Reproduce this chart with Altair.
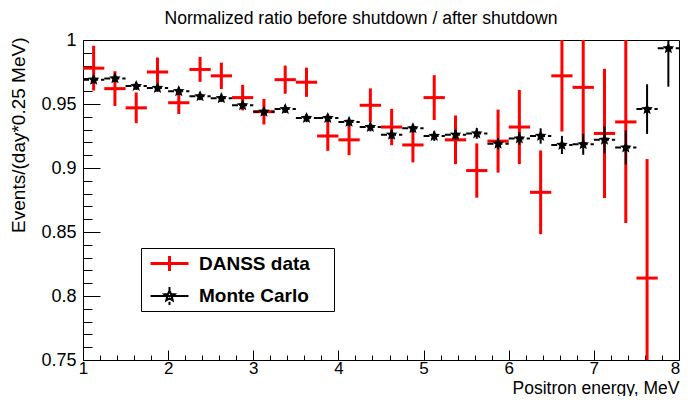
import math
import altair as alt
import pandas as pd

# ---- data ----
energy = [1.125, 1.375, 1.625, 1.875, 2.125, 2.375, 2.625, 2.875, 3.125, 3.375,
          3.625, 3.875, 4.125, 4.375, 4.625, 4.875, 5.125, 5.375, 5.625, 5.875,
          6.125, 6.375, 6.625, 6.875, 7.125, 7.375, 7.625, 7.875]
half_bin = 0.125

danss_ratio = [0.978, 0.962, 0.947, 0.975, 0.951, 0.977, 0.972, 0.955, 0.944, 0.969,
               0.967, 0.925, 0.922, 0.949, 0.932, 0.918, 0.955, 0.922, 0.898, 0.921,
               0.932, 0.881, 0.972, 0.963, 0.927, 0.936, 0.814]
danss_err = [0.0175, 0.0136, 0.012, 0.0113, 0.0088, 0.0097, 0.0103, 0.010, 0.010, 0.011,
             0.0114, 0.0116, 0.012, 0.0132, 0.0142, 0.0136, 0.0175, 0.019, 0.0212, 0.0246,
             0.029, 0.0327, 0.0435, 0.047, 0.0505, 0.079, 0.093]

mc_ratio = [0.969, 0.970, 0.964, 0.9625, 0.960, 0.956, 0.9545, 0.949, 0.944, 0.946,
            0.939, 0.939, 0.936, 0.932, 0.926, 0.931, 0.925, 0.926, 0.927, 0.919,
            0.923, 0.925, 0.918, 0.9185, 0.922, 0.916, 0.946, 0.9935]
mc_err = [0.003, 0.003, 0.003, 0.003, 0.003, 0.003, 0.003, 0.003, 0.003, 0.003,
          0.0032, 0.0032, 0.0033, 0.0034, 0.0035, 0.0035, 0.0038, 0.004, 0.0042, 0.0045,
          0.005, 0.006, 0.0071, 0.0082, 0.0106, 0.0133, 0.0194, 0.030]

series_names = ["DANSS data", "Monte Carlo"]
series_colors = ["#ff0000", "#000000"]

x_major = [1, 2, 3, 4, 5, 6, 7, 8]
y_major = [0.75, 0.8, 0.85, 0.9, 0.95, 1.0]
x_minor = [round(1 + 0.2 * i, 1) for i in range(36) if i % 5]
y_minor = [round(0.75 + 0.01 * i, 2) for i in range(26) if i % 5]

# ---- tables ----
danss = pd.DataFrame({"E": energy[:len(danss_ratio)], "ratio": danss_ratio, "err": danss_err})
danss["series"] = series_names[0]
mc = pd.DataFrame({"E": energy, "ratio": mc_ratio, "err": mc_err})
mc["series"] = series_names[1]
for df in (danss, mc):
    df["E0"] = df["E"] - half_bin
    df["E1"] = df["E"] + half_bin
    df["lo"] = df["ratio"] - df["err"]
    df["hi"] = df["ratio"] + df["err"]
both = pd.concat([danss, mc], ignore_index=True)

FONT = "Liberation Sans"
W, H = 596, 320
xs = alt.Scale(domain=[1, 8], nice=False, zero=False)
ys = alt.Scale(domain=[0.75, 1.0], nice=False, zero=False)


def star_path(R, r):
    pts = []
    for i in range(10):
        ang = -math.pi / 2 + i * math.pi / 5
        rad = R if i % 2 == 0 else r
        pts.append(f"{rad * math.cos(ang):.3f},{rad * math.sin(ang):.3f}")
    return "M" + "L".join(pts) + "Z"


STAR = star_path(1.0, 0.45)
cross_path = "M-1.46,0H1.46M0,-0.58V0.58"
mc_path = "M-1.46,0H1.46M0,-0.7V-0.45M0,0.45V0.7" + star_path(0.42, 0.19)

x_major_axis = alt.Axis(orient="bottom", values=x_major, format="d", offset=-10, tickSize=10,
                        labelPadding=0, labelFont=FONT, labelFontSize=17, labelColor="black",
                        labelOffset={"condition": {"test": "datum.value === 8", "value": -4},
                                     "value": 0},
                        tickColor="black", domain=False, grid=False, labelFlush=False,
                        labelOverlap=False, title="Positron energy, MeV", titleFont=FONT,
                        titleFontSize=17.5, titleFontWeight="normal", titleColor="black",
                        titleAlign="right", titleX=W, titleY=43, titleBaseline="alphabetic")
x_minor_axis = alt.Axis(orient="bottom", values=x_minor, offset=-5, tickSize=5, labels=False,
                        domain=False, grid=False, title=None, tickColor="black")
y_major_axis = alt.Axis(orient="left", values=y_major, format="~g", offset=-17, tickSize=17,
                        labelPadding=7, labelFont=FONT, labelFontSize=18, labelColor="black",
                        tickColor="black", domain=False, grid=False, labelFlush=False,
                        labelOverlap=False, title="Events/(day*0.25 MeV)", titleFont=FONT,
                        titleFontSize=19, titleFontWeight="normal", titleColor="black",
                        titleAngle=270, titleAlign="right", titleBaseline="middle",
                        titleX=-82, titleY=-3)
y_minor_axis = alt.Axis(orient="left", values=y_minor, offset=-9, tickSize=9, labels=False,
                        domain=False, grid=False, title=None, tickColor="black")

red_h = alt.Chart(danss).mark_rule(color=series_colors[0], strokeWidth=3, clip=True).encode(
    x=alt.X("E0:Q", scale=xs, axis=x_major_axis), x2="E1:Q",
    y=alt.Y("ratio:Q", scale=ys, axis=y_major_axis))
red_v = alt.Chart(danss).mark_rule(color=series_colors[0], strokeWidth=3, clip=True).encode(
    x=alt.X("E:Q", scale=xs, axis=x_minor_axis),
    y=alt.Y("lo:Q", scale=ys, axis=y_minor_axis), y2="hi:Q")
black_h = alt.Chart(mc).mark_rule(color="black", strokeWidth=2, strokeDash=[6, 3], clip=True).encode(
    x=alt.X("E0:Q", scale=xs, axis=None), x2="E1:Q",
    y=alt.Y("ratio:Q", scale=ys, axis=None))
black_v = alt.Chart(mc).mark_rule(color="black", strokeWidth=2, clip=True).encode(
    x=alt.X("E:Q", scale=xs, axis=None),
    y=alt.Y("lo:Q", scale=ys, axis=None), y2="hi:Q")
stars = alt.Chart(mc).mark_point(shape=STAR, filled=True, color="black", size=150,
                                 opacity=1, clip=True).encode(
    x=alt.X("E:Q", scale=xs, axis=None),
    y=alt.Y("ratio:Q", scale=ys, axis=None))

legend = alt.Legend(orient="none", legendX=58, legendY=208, title=" ", titleOrient="right",
                    titlePadding=23, titleFontSize=19, padding=1, rowPadding=4, symbolSize=676,
                    symbolOffset=13, labelOffset=15, labelFont=FONT, labelFontSize=19,
                    labelFontWeight="bold", labelColor="black", fillColor="white",
                    strokeColor="black", cornerRadius=0, symbolOpacity=1)
legend_layer = alt.Chart(both).mark_point(opacity=0, filled=True, size=1).encode(
    x=alt.X("E:Q", scale=xs, axis=None),
    y=alt.Y("ratio:Q", scale=ys, axis=None),
    fill=alt.Fill("series:N", scale=alt.Scale(domain=series_names, range=series_colors), legend=legend),
    stroke=alt.Stroke("series:N", scale=alt.Scale(domain=series_names, range=series_colors)),
    shape=alt.Shape("series:N", scale=alt.Scale(domain=series_names, range=[cross_path, mc_path])),
    strokeWidth=alt.StrokeWidth("series:O", scale=alt.Scale(domain=series_names, range=[3, 2])))

chart = alt.layer(red_h, red_v, black_h, black_v, stars, legend_layer).resolve_axis(
    x="independent", y="independent"
).properties(
    width=W, height=H,
    title=alt.Title("Normalized ratio before shutdown / after shutdown", font=FONT, fontSize=17.6,
                    fontWeight="normal", color="black", anchor="middle", dx=-20, offset=3),
    padding={"left": 75, "top": 32, "right": 1, "bottom": 36},
    autosize=alt.AutoSizeParams(type="none"),
    background="white",
).configure_view(stroke="black", strokeWidth=1)

chart.save("out.html", embed_options={"renderer": "svg", "actions": False})
